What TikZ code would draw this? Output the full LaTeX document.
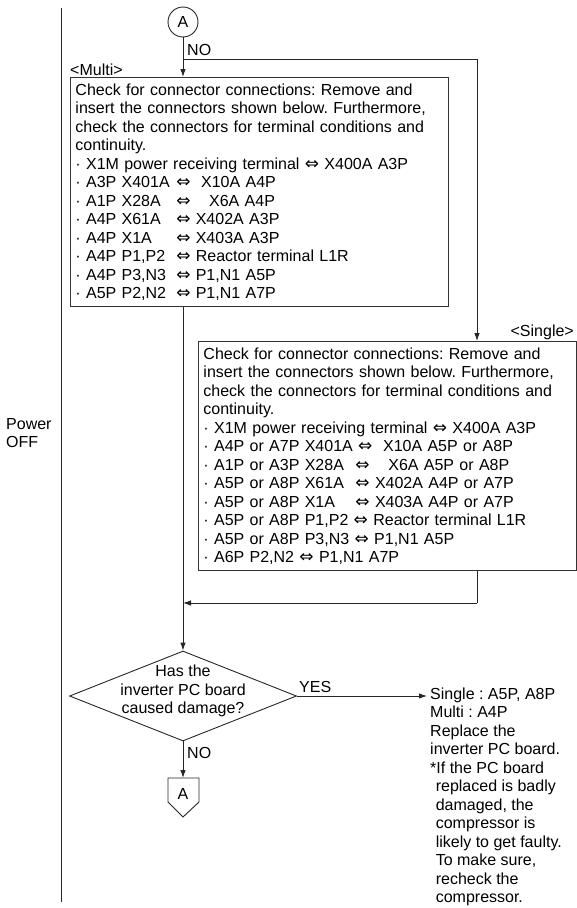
\documentclass[tikz,border=0pt]{standalone}
\usepackage{fontspec}
\setmainfont{Liberation Sans}
\newfontfamily\symf{DejaVu Sans}
\usetikzlibrary{arrows.meta,shapes.geometric,positioning}
\frenchspacing
\newcommand{\fs}{\fontsize{16}{18.5}\selectfont}
\newcommand{\lr}{{\symf\fontsize{17}{18.5}\selectfont ⇔}}
% one connector pair: left part padded to a column, then the arrow
\newcommand{\pr}[3][6.3em]{\makebox[#1][l]{·\ #2}\lr\ #3}
\newcommand{\pn}[2]{·\ #1 \lr\ #2}
\tikzset{
  ln/.style={draw=black!85,line width=.9pt},
  flw/.style={-{Latex[length=8pt,width=5.5pt]},line width=.9pt,draw=black!85},
  bx/.style={rectangle,draw=black!80,line width=.9pt,align=left,anchor=north west,
    inner xsep=5pt,inner ysep=6pt},
  dec/.style={diamond,draw=black!85,line width=.9pt,minimum width=227pt,minimum height=90pt,inner sep=0pt},
  cn/.style={circle,draw=black!85,line width=.9pt,minimum size=30pt,inner sep=0pt},
  lb/.style={inner sep=0pt},
}

\begin{document}
\begin{tikzpicture}[x=1pt,y=-1pt,font=\fs]
\useasboundingbox (0,0) rectangle (577,908);
% ---- power state column
\draw[ln] (61,8) -- (61,902);
\node[lb,anchor=north west,align=left] (pw) at (6,418) {Power\\OFF};
% ---- entry and the two checks
\node[cn] (ca) at (183,22) {A};
\node[lb,anchor=base west] (no1) at (187,55.5) {NO};
\coordinate (br) at (477,59);
\node[lb,anchor=base west] (ml) at (70,75) {<Multi>};
\node[bx,text width=368pt] (mb) at (70,77) {Check for connector connections: Remove and\\
  insert the connectors shown below. Furthermore,\\
  check the connectors for terminal conditions and\\
  continuity.\\
  ·\ X1M power receiving terminal \lr\ X400A A3P\\
  \pr{A3P X401A}{\ X10A A4P}\\
  \pr{A1P X28A}{\ \ \,X6A A4P}\\
  \pr{A4P X61A}{X402A A3P}\\
  \pr{A4P X1A}{X403A A3P}\\
  \pr{A4P P1,P2}{Reactor terminal L1R}\\
  \pr{A4P P3,N3}{P1,N1 A5P}\\
  \pr{A5P P2,N2}{P1,N1 A7P}};
\node[lb,anchor=base east] (sl) at (574,336) {<Single>};
\node[bx,text width=368pt] (sb) at (198,341) {Check for connector connections: Remove and\\
  insert the connectors shown below. Furthermore,\\
  check the connectors for terminal conditions and\\
  continuity.\\
  ·\ X1M power receiving terminal \lr\ X400A A3P\\
  \pn{A4P or A7P X401A}{\ X10A A5P or A8P}\\
  \pr[9.5em]{A1P or A3P X28A}{\ \ \,X6A A5P or A8P}\\
  \pr[9.5em]{A5P or A8P X61A}{X402A A4P or A7P}\\
  \pr[9.5em]{A5P or A8P X1A}{X403A A4P or A7P}\\
  \pn{A5P or A8P P1,P2}{Reactor terminal L1R}\\
  \pn{A5P or A8P P3,N3}{P1,N1 A5P}\\
  \pn{A6P P2,N2}{P1,N1 A7P}};
\coordinate (mg) at (477,603);
% ---- decision
\node[dec] (q) at (183,696) {};
\node[lb,align=center] (qt) at (183,691) {Has the\\inverter PC board\\caused damage?};
\node[lb,anchor=base west] (yes) at (299,692.5) {YES};
\node[lb,anchor=base west] (no2) at (187,758) {NO};
\node[lb,anchor=north west,align=left] (rt) at (430,687.5) {Single : A5P, A8P\\
  Multi : A4P\\
  Replace the\\
  inverter PC board.\\
  *If the PC board\\
  \hspace*{.35em}replaced is badly\\
  \hspace*{.35em}damaged, the\\
  \hspace*{.35em}compressor is\\
  \hspace*{.35em}likely to get faulty.\\
  \hspace*{.35em}To make sure,\\
  \hspace*{.35em}recheck the\\
  \hspace*{.35em}compressor.};
% ---- exit connector
\coordinate (pt) at (183,778);
\draw[ln] (168,778) -- (199,778) -- (199,802) -- (183,817) -- (168,802) -- cycle;
\node[lb] (a2) at (183,794) {A};
% ---- flow lines
\draw[flw] (ca.south) -- (ca.south |- mb.north);
\draw[ln] (ca.south |- br) -- (br);
\draw[flw] (br) -- (br |- sb.north);
\draw[flw] (mb.south -| ca) -- (q.north);
\draw[ln] (sb.south -| br) -- (mg);
\draw[flw] (mg) -- (mg -| q);
\draw[flw] (q.east) -- ([xshift=-3pt]q.east -| rt.west);
\draw[flw] (q.south) -- (pt);
\end{tikzpicture}
\end{document}
